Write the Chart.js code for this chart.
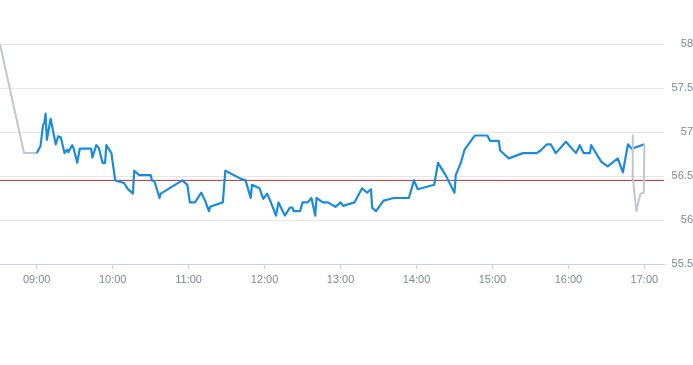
<!DOCTYPE html>
<html>
<head>
<meta charset="utf-8">
<script src="https://cdn.jsdelivr.net/npm/chart.js@4"></script>
<style>
  html, body { margin: 0; padding: 0; background: #fff; }
  #wrap { width: 693px; height: 365px; }
</style>
</head>
<body>
<div id="wrap"><canvas id="priceChart"></canvas></div>
<script>
// pre-market (grey)
const preTimes  = ['08:31', '08:50', '09:00'];
const prePrices = [58.0, 56.76, 56.76];

// regular session (blue)
const marketTimes = [
  '09:00','09:03','09:05','09:06','09:07','09:08','09:11','09:15','09:17','09:19',
  '09:22','09:24','09:25','09:28','09:29','09:32','09:34','09:43','09:44','09:47',
  '09:49','09:52','09:54','09:55','09:59','10:02','10:09','10:12','10:16','10:17',
  '10:21','10:30','10:31','10:33','10:37','10:38','10:55','10:59','11:01','11:05',
  '11:10','11:13','11:16','11:17','11:27','11:29','11:41','11:45','11:49','11:50',
  '11:56','11:59','12:02','12:05','12:09','12:11','12:16','12:20','12:22','12:23',
  '12:28','12:30','12:34','12:37','12:40','12:41','12:46','12:50','12:56','13:00',
  '13:02','13:11','13:17','13:21','13:24','13:25','13:28','13:34','13:42','13:54',
  '13:58','14:01','14:14','14:17','14:23','14:30','14:31','14:35','14:38','14:46',
  '14:56','14:58','15:05','15:06','15:13','15:24','15:35','15:38','15:43','15:46',
  '15:50','15:58','16:06','16:09','16:12','16:17','16:18','16:26','16:31','16:39',
  '16:43','16:47','16:50','17:00'
];
const marketPrices = [
  56.76,56.84,57.08,57.10,57.21,56.91,57.15,56.86,56.95,56.94,
  56.76,56.80,56.77,56.85,56.82,56.65,56.81,56.81,56.71,56.85,
  56.82,56.65,56.65,56.85,56.76,56.45,56.42,56.35,56.30,56.56,
  56.51,56.51,56.45,56.44,56.25,56.30,56.45,56.40,56.20,56.20,
  56.31,56.22,56.10,56.15,56.20,56.56,56.47,56.45,56.25,56.40,
  56.36,56.24,56.30,56.20,56.05,56.20,56.05,56.14,56.14,56.10,
  56.10,56.20,56.20,56.25,56.05,56.25,56.20,56.20,56.15,56.20,
  56.16,56.20,56.36,56.31,56.35,56.14,56.10,56.22,56.25,56.25,
  56.45,56.35,56.40,56.65,56.51,56.31,56.51,56.65,56.80,56.96,
  56.96,56.90,56.90,56.79,56.70,56.76,56.76,56.79,56.86,56.86,
  56.76,56.89,56.76,56.85,56.76,56.76,56.85,56.66,56.61,56.70,
  56.54,56.86,56.81,56.86
];

// after-hours (grey)
const postTimes  = ['16:50:20', '16:50:40', '16:51:00', '16:53:40', '16:56:50', '16:59:30', '17:00:00'];
const postPrices = [56.51, 56.96, 56.48, 56.10, 56.30, 56.31, 56.86];

const prevClose = 56.45;

const hourTicks = ['09:00','10:00','11:00','12:00','13:00','14:00','15:00','16:00','17:00'];
const priceTicks = [55.5, 56, 56.5, 57, 57.5, 58];

// helpers
function toMin(s) {
  const p = s.split(':').map(Number);
  return p[0] * 60 + p[1] + (p[2] || 0) / 60;
}
function pts(times, prices) {
  return times.map((t, i) => ({ x: toMin(t), y: prices[i] }));
}
function fmt(m) {
  const h = Math.floor(m / 60), mm = Math.round(m % 60);
  return String(h).padStart(2, '0') + ':' + String(mm).padStart(2, '0');
}

const xMin = 511, xMax = 1035.5;

const tickFont = { family: 'Liberation Sans, Arial, sans-serif', size: 11 };
const tickColor = '#7d8895';

new Chart(document.getElementById('priceChart').getContext('2d'), {
  type: 'line',
  data: {
    datasets: [
      {
        data: pts(postTimes, postPrices),
        borderColor: '#bfc8cf',
        borderWidth: 2,
        order: 0
      },
      {
        data: pts(marketTimes, marketPrices),
        borderColor: '#1a8cdb',
        borderWidth: 2.2,
        order: 1
      },
      {
        data: pts(preTimes, prePrices),
        borderColor: '#bfc8cf',
        borderWidth: 2,
        order: 1
      },
      {
        data: [{ x: xMin, y: prevClose }, { x: xMax, y: prevClose }],
        borderColor: '#b8323a',
        borderWidth: 1,
        order: 2
      }
    ]
  },
  options: {
    responsive: true,
    maintainAspectRatio: false,
    animation: false,
    layout: { padding: { top: 44, bottom: 75, left: 0, right: 0 } },
    elements: { point: { radius: 0 }, line: { tension: 0, borderJoinStyle: 'round' } },
    plugins: { legend: { display: false }, tooltip: { enabled: false } },
    scales: {
      x: {
        type: 'linear',
        min: xMin,
        max: xMax,
        afterBuildTicks: (scale) => {
          scale.ticks = hourTicks.map(t => ({ value: toMin(t) }));
        },
        afterFit: (scale) => { scale.height = 26; },
        ticks: {
          callback: (v) => fmt(v),
          font: tickFont,
          color: tickColor,
          padding: 4,
          maxRotation: 0,
          autoSkip: false
        },
        grid: {
          drawOnChartArea: false,
          tickLength: 5,
          color: '#ccd3dc'
        },
        border: { display: true, color: '#ccd3dc' }
      },
      y: {
        position: 'right',
        min: 55.5,
        max: 58,
        afterBuildTicks: (scale) => {
          scale.ticks = priceTicks.map(v => ({ value: v }));
        },
        afterFit: (scale) => { scale.width = 29; },
        ticks: {
          callback: (v) => String(v),
          font: tickFont,
          color: tickColor,
          crossAlign: 'far',
          padding: 0
        },
        grid: { color: '#e6e6e6', tickLength: 0 },
        border: { display: false }
      }
    }
  }
});
</script>
</body>
</html>
